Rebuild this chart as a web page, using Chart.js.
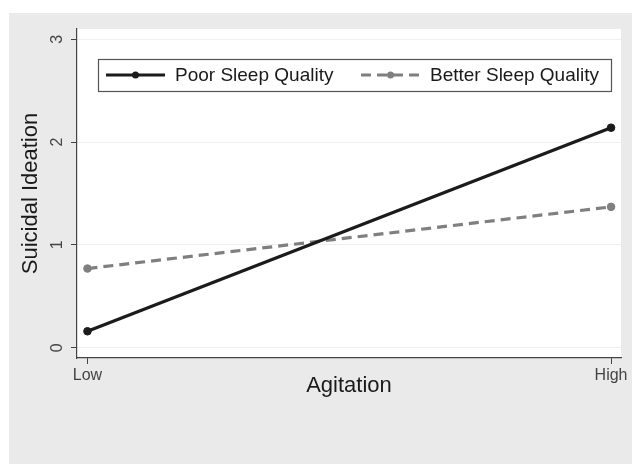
<!DOCTYPE html>
<html>
<head>
<meta charset="utf-8">
<script src="https://cdn.jsdelivr.net/npm/chart.js@4/dist/chart.umd.min.js"></script>
<style>
  html, body { margin: 0; padding: 0; background: #ffffff; }
  #wrap { width: 632px; height: 464px; }
</style>
</head>
<body>
<div id="wrap"><canvas id="c" width="632" height="464"></canvas></div>
<script>
// ---- data ----
const categories = ['Low', 'High'];
const agitationLevels = [0, 1];
const poorSleep = [0.16, 2.14];
const betterSleep = [0.77, 1.37];
const yTicks = [0, 1, 2, 3];
const seriesNames = ['Poor Sleep Quality', 'Better Sleep Quality'];
const xTitle = 'Agitation';
const yTitle = 'Suicidal Ideation';

const FONT = "'Liberation Sans', Arial, Helvetica, sans-serif";

const panelPlugin = {
  id: 'panel',
  beforeDraw(chart) {
    const ctx = chart.ctx;
    const a = chart.chartArea;
    ctx.save();
    ctx.fillStyle = '#ffffff';
    ctx.fillRect(0, 0, chart.width, chart.height);
    ctx.fillStyle = '#eaeaea';
    ctx.fillRect(9, 13, chart.width - 9, chart.height - 13);
    ctx.fillStyle = '#ffffff';
    ctx.fillRect(a.left, a.top, a.right - a.left, a.bottom - a.top);
    ctx.restore();
  }
};

const legendPlugin = {
  id: 'boxLegend',
  afterDraw(chart) {
    const ctx = chart.ctx;
    const a = chart.chartArea;
    const left = a.left + 21, right = a.right - 10, top = a.top + 30, bottom = a.top + 62;
    const cy = (top + bottom) / 2;
    ctx.save();
    ctx.fillStyle = '#ffffff';
    ctx.fillRect(left, top, right - left, bottom - top);
    ctx.strokeStyle = '#555555';
    ctx.lineWidth = 1.2;
    ctx.strokeRect(left + 0.5, top + 0.5, right - left, bottom - top);
    const starts = [left + 8, left + 263];
    chart.data.datasets.forEach((ds, i) => {
      const x0 = starts[i];
      ctx.strokeStyle = ds.borderColor;
      ctx.lineWidth = ds.borderWidth;
      ctx.setLineDash(ds.borderDash || []);
      ctx.beginPath();
      ctx.moveTo(x0, cy);
      ctx.lineTo(x0 + 59, cy);
      ctx.stroke();
      ctx.setLineDash([]);
      ctx.fillStyle = ds.pointBackgroundColor;
      ctx.beginPath();
      ctx.arc(x0 + 29.5, cy, 3.5, 0, Math.PI * 2);
      ctx.fill();
      ctx.fillStyle = '#1a1a1a';
      ctx.font = '19px ' + FONT;
      ctx.textBaseline = 'middle';
      ctx.textAlign = 'left';
      ctx.fillText(ds.label, x0 + 69, cy + 1);
    });
    ctx.restore();
  }
};

new Chart(document.getElementById('c'), {
  type: 'line',
  data: {
    datasets: [
      {
        label: seriesNames[0],
        data: agitationLevels.map((x, i) => ({ x: x, y: poorSleep[i] })),
        borderColor: '#1b1b1b',
        backgroundColor: '#1b1b1b',
        pointBackgroundColor: '#1b1b1b',
        pointBorderColor: '#1b1b1b',
        borderWidth: 3.2,
        pointRadius: 3.8,
        pointBorderWidth: 1,
        tension: 0
      },
      {
        label: seriesNames[1],
        data: agitationLevels.map((x, i) => ({ x: x, y: betterSleep[i] })),
        borderColor: '#7f7f7f',
        backgroundColor: '#7f7f7f',
        pointBackgroundColor: '#7f7f7f',
        pointBorderColor: '#7f7f7f',
        borderWidth: 3.2,
        borderDash: [10, 6],
        pointRadius: 3.8,
        pointBorderWidth: 1,
        tension: 0
      }
    ]
  },
  options: {
    responsive: false,
    animation: false,
    devicePixelRatio: 1,
    layout: { padding: { top: 29, right: 11, left: 0, bottom: 46 } },
    plugins: {
      legend: { display: false },
      tooltip: { enabled: false },
      title: { display: false }
    },
    scales: {
      x: {
        type: 'linear',
        min: -0.02,
        max: 1.019,
        afterBuildTicks(scale) { scale.ticks = agitationLevels.map(v => ({ value: v })); },
        afterFit(scale) { scale.height = 60; },
        ticks: {
          color: '#444444',
          font: { family: FONT, size: 16 },
          padding: 2,
          maxRotation: 0,
          callback: (v) => categories[agitationLevels.indexOf(v)]
        },
        grid: { drawOnChartArea: false, tickLength: 6, tickColor: '#444444', tickWidth: 1 },
        border: { display: true, color: '#444444', width: 1.2 },
        title: {
          display: true,
          text: xTitle,
          color: '#1a1a1a',
          font: { family: FONT, size: 22 },
          padding: { top: 0, bottom: 19 }
        }
      },
      y: {
        type: 'linear',
        min: -0.1,
        max: 3.1,
        afterBuildTicks(scale) { scale.ticks = yTicks.map(v => ({ value: v })); },
        afterFit(scale) { scale.width = 77; },
        ticks: {
          color: '#444444',
          font: { family: FONT, size: 16 },
          minRotation: 90,
          maxRotation: 90,
          crossAlign: 'center',
          padding: 9
        },
        grid: { color: '#efefef', lineWidth: 1, tickLength: 6, tickColor: '#444444', tickWidth: 1 },
        border: { display: true, color: '#444444', width: 1.2 },
        title: {
          display: true,
          text: yTitle,
          color: '#1a1a1a',
          font: { family: FONT, size: 22 },
          padding: { top: 18, bottom: 0 }
        }
      }
    }
  },
  plugins: [panelPlugin, legendPlugin]
});
</script>
</body>
</html>
